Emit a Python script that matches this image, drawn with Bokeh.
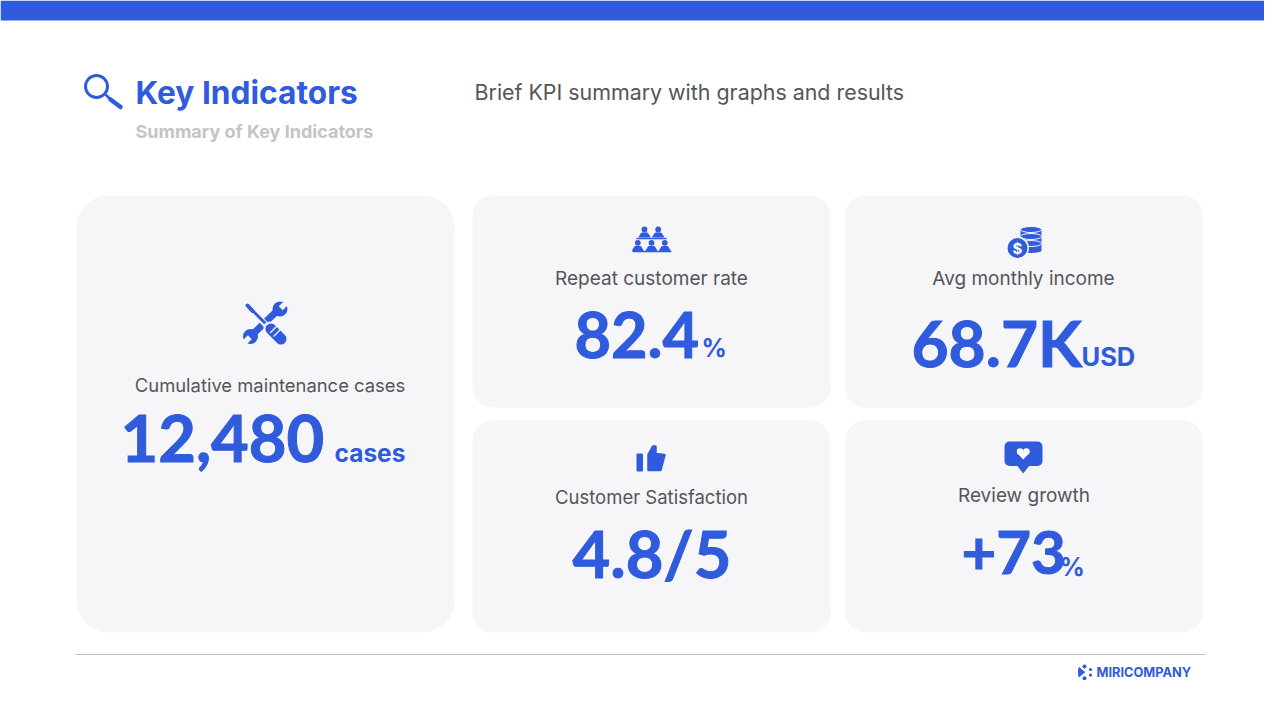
from math import cos, sin, pi
from bokeh.core.properties import value
from bokeh.plotting import figure
from bokeh.embed import file_html
from bokeh.resources import INLINE

heading = 'Key Indicators'
subheading = 'Summary of Key Indicators'
summary = 'Brief KPI summary with graphs and results'
brand = 'MIRICOMPANY'

card_labels = ['Cumulative maintenance cases', 'Repeat customer rate', 'Avg monthly income',
               'Customer Satisfaction', 'Review growth']
card_values = ['12,480', '82.4', '68.7K', '4.8/5', '+73']
card_units = ['cases', '%', 'USD', '', '%']

BLUE = '#2f5bdc'
CARD = '#f6f6f9'
GREY = '#55555a'
FONT = 'Inter'
NUM_FONT = 'Lato'

# one data unit is one pixel of the slide
p = figure(width=1264, height=704, x_range=(0, 1264), y_range=(704, 0),
           output_backend='svg', toolbar_location=None, tools='', min_border=0)
p.axis.visible = False
p.grid.visible = False
p.outline_line_color = None
p.background_fill_color = 'white'
p.border_fill_color = 'white'


def label(x, y, text, size, color=BLUE, align='left', style='bold', font=FONT, outline=None):
    p.text([x], [y], text=[text], text_font=value(font), text_font_size=f'{size}px', text_color=color,
           text_align=align, text_baseline='middle', text_font_style=style, text_outline_color=outline)


def card(l, r, t, b, radius):
    p.quad(left=[l], right=[r], top=[t], bottom=[b], fill_color=CARD, line_color=None, border_radius=radius)


def stroke(xs, ys, width, color=BLUE, cap='round'):
    p.line(xs, ys, line_width=width, line_color=color, line_cap=cap, line_join='round')


def poly(xs, ys, color=BLUE, edge=0):
    p.patch(xs, ys, fill_color=color, line_color=color if edge else None, line_width=edge, line_join='round')


def dot(x, y, r, color=BLUE):
    p.circle([x], [y], radius=r, fill_color=color, line_color=None)


# top bar and footer rule
p.quad(left=[0], right=[1280], top=[0], bottom=[20], fill_color=BLUE, line_color=None)
stroke([75, 1205], [654, 654], 1, '#bdbdc0', 'butt')

# header
p.circle([96], [86], radius=11, fill_color=None, line_color=BLUE, line_width=3)
stroke([105, 111], [94, 100], 2.5, cap='butt')
stroke([110, 120], [99, 106.5], 4.5)
label(135, 91.5, heading, 31.7)
label(135, 130.5, subheading, 18, '#c4c4c8')
label(474, 91, summary, 21.4, GREY, style='normal')

# cards
card(76, 454, 195, 632, 32)
for l, r in [(472, 830), (845, 1202)]:
    card(l, r, 195, 407, 20)
    card(l, r, 420, 632, 20)

label(269.5, 384, card_labels[0], 18.4, GREY, 'center', 'normal')
label(651, 278, card_labels[1], 19, GREY, 'center', 'normal')
label(1023, 278, card_labels[2], 19, GREY, 'center', 'normal')
label(651, 496, card_labels[3], 18.5, GREY, 'center', 'normal')
label(1023.5, 495, card_labels[4], 19, GREY, 'center', 'normal')

label(120, 438, card_values[0], 65, font=NUM_FONT, outline=BLUE)
label(334, 452, card_units[0], 24.5)
label(574, 334.5, card_values[1], 63, font=NUM_FONT, outline=BLUE)
label(701, 347, card_units[1], 25)
label(911, 342, card_values[2], 64, font=NUM_FONT, outline=BLUE)
label(1081, 356, card_units[2], 25.5)
label(572, 552, card_values[3], 65, font=NUM_FONT, outline=BLUE)
label(961, 552, card_values[4], 60, font=NUM_FONT, outline=BLUE)
label(1059, 566, card_units[4], 25)

# tools icon: wrench under screwdriver
stroke([276, 254], [311, 332], 7)
for cx, cy, a in [(279.5, 308.5, -pi / 4), (250, 336, 3 * pi / 4)]:
    dot(cx, cy, 7.5)
    nx, ny = cx + 6 * cos(a), cy + 6 * sin(a)
    stroke([cx + 1 * cos(a), nx + 3 * cos(a)], [cy + 1 * sin(a), ny + 3 * sin(a)], 5.5, CARD, 'butt')
stroke([250, 268], [308, 327], 6, CARD, 'butt')
stroke([249, 268], [307, 326], 3)
stroke([247, 252], [305, 310.5], 4)
stroke([269, 281], [327, 339], 12, CARD)
stroke([270.5, 280.5], [328.5, 338.5], 11)
stroke([269.5, 276.5], [332.5, 325.5], 1.2, CARD, 'butt')
stroke([273, 280], [336, 329], 1.2, CARD, 'butt')

# people icon
for cx in (644, 657.7):
    dot(cx, 229, 2.9)
    poly([cx - 5.5, cx - 3, cx + 3, cx + 5.5], [236.5, 232.5, 232.5, 236.5], edge=1)
stroke([636, 666], [238, 238], 1.3, cap='butt')
for cx in (637.3, 651, 664.3):
    dot(cx, 242.3, 2.9)
    poly([cx - 5.3, cx - 3, cx + 3, cx + 5.3], [250, 246, 246, 250], edge=1)
stroke([632, 671], [251, 251], 1.5, cap='butt')

# coins icon
for top in (226, 233, 240):
    p.quad(left=[1020], right=[1041], top=[top + 3], bottom=[top + 10], fill_color=BLUE, line_color=None)
    p.ellipse([1030.5], [top + 10], width=21, height=5, fill_color=BLUE, line_color=None)
    p.ellipse([1030.5], [top + 3], width=21, height=6, fill_color=BLUE, line_color=CARD, line_width=1)
dot(1017, 247.5, 11.5, CARD)
dot(1017, 247.5, 10)
label(1017, 247.5, '$', 15, 'white', 'center')

# thumb icon
poly([637, 641.5, 641.5, 637], [454, 454, 470, 470], edge=2)
poly([648, 652.5, 655, 655, 664, 660, 648], [454, 446, 446, 453.5, 454.5, 469.5, 469.5], edge=2.5)

# speech bubble with heart
p.quad(left=[1004], right=[1042], top=[441], bottom=[465.5], fill_color=BLUE, line_color=None, border_radius=5)
poly([1016.5, 1029, 1022.7], [465, 465, 473])
dot(1019.6, 451, 3.3, 'white')
dot(1025.9, 451, 3.3, 'white')
poly([1016.6, 1028.9, 1022.7], [452.5, 452.5, 459], 'white')

# brand mark
poly([1084, 1078.5, 1078, 1081], [671.7, 667, 671.5, 671.7], edge=1)
poly([1084, 1078.5, 1078, 1081], [671.7, 676.4, 671.9, 671.7], edge=1)
dot(1084, 666, 2)
dot(1084, 677.8, 2)
dot(1090, 669, 1.6)
dot(1090, 674.6, 1.6)
label(1096, 672, brand, 12.8)

open('out.html', 'w').write(file_html(p, INLINE))
